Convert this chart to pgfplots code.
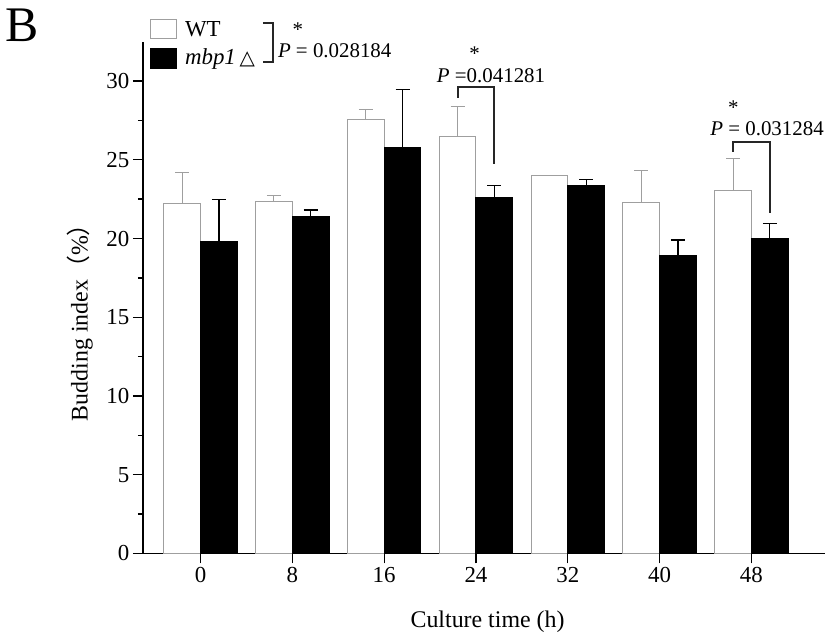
\documentclass[border=0pt]{standalone}
\usepackage{fontspec}
\setmainfont{Liberation Serif}
\newfontfamily\cjk{Noto Sans CJK SC}
\newfontfamily\dejavu{DejaVu Sans}
\usepackage{pgfplots}
\usepackage{pgfplotstable}
\pgfplotsset{compat=1.18}

% x = group index (0,8,...,48 h), y = budding index, e = upper error
\pgfplotstableread{
x y e
0 22.20 1.99
1 22.32 0.40
2 27.53 0.68
3 26.47 1.93
4 24.02 0.00
5 22.26 2.05
6 23.05 2.05
}\wt
\pgfplotstableread{
x y e
0 19.80 2.69
1 21.37 0.44
2 25.75 3.73
3 22.60 0.78
4 23.34 0.42
5 18.95 0.95
6 20.02 0.93
}\mbp

\newcommand\lbl{\fontsize{23}{25}\selectfont}
\newcommand\pf{\fontsize{21}{23}\selectfont}

\begin{document}
\begin{tikzpicture}
\begin{axis}[
    at={(0,0)}, anchor=south west,
    scale only axis,
    width=683bp, height=512.3bp,
    xmin=-0.628, xmax=6.804,
    ymin=0, ymax=32.5,
    axis x line*=bottom, axis y line*=left,
    axis line style={line width=1.5bp},
    tick align=outside,
    major tick length=10bp, minor tick length=5bp,
    tick style={black, line width=1.3bp},
    xtick={0,...,6},
    xticklabels={0,8,16,24,32,40,48},
    ytick={0,5,...,30},
    minor y tick num=1,
    ticklabel style={font=\lbl},
    /pgf/number format/assume math mode=true,
    clip=false,
    ybar, bar width=0.4,
  ]
  \addplot[ybar, bar shift=-0.2, fill=white, draw=gray!75, line width=1bp,
    error bars/.cd, y dir=plus, y explicit,
    error bar style={gray!75, line width=1bp},
    error mark options={rotate=90, gray!75, mark size=7bp, line width=1bp}]
    table[x=x, y=y, y error=e] {\wt};
  \addplot[ybar, bar shift=0.2, fill=black, draw=black, line width=1bp,
    error bars/.cd, y dir=plus, y explicit,
    error bar style={black, line width=1.3bp},
    error mark options={rotate=90, black, mark size=7bp, line width=1.3bp}]
    table[x=x, y=y, y error=e] {\mbp};

  % significance, 24 h
  \draw[line width=2bp, black!85] (axis cs:2.8,28.95) -- (axis cs:2.8,29.65)
    -- (axis cs:3.2,29.65) -- (axis cs:3.2,24.71);
  \node[inner sep=0, font=\pf] at (axis cs:3.164,30.32) {\textit{P} =0.041281};
  \node[inner sep=0, font=\pf] at (axis cs:2.985,31.75) {*};
  % significance, 48 h
  \draw[line width=2bp, black!85] (axis cs:5.8,25.5) -- (axis cs:5.8,26.13)
    -- (axis cs:6.2,26.13) -- (axis cs:6.2,21.65);
  \node[inner sep=0, font=\pf] at (axis cs:6.17,26.98) {\textit{P} = 0.031284};
  \node[inner sep=0, font=\pf] at (axis cs:5.803,28.3) {*};
\end{axis}

% legend
\draw[gray!75, line width=1bp, fill=white] (7.7bp,515bp) rectangle (33.7bp,534.7bp);
\draw[black, line width=1bp, fill=black] (7.7bp,485bp) rectangle (33.7bp,505bp);
\node[anchor=west, inner sep=0, font=\lbl] at (42bp,525bp) {WT};
\node[anchor=west, inner sep=0, font=\lbl] at (42bp,495bp) {\textit{mbp1}\,{\dejavu\fontsize{20}{22}\selectfont △}};
\draw[line width=2bp, black!85] (120bp,531.3bp) -- (130bp,531.3bp) -- (130bp,492.3bp) -- (120bp,492.3bp);
\node[inner sep=0, font=\pf] at (155bp,524.5bp) {*};
\node[inner sep=0, font=\pf] at (192bp,503bp) {\textit{P} = 0.028184};

% panel letter and axis titles
\node[inner sep=0, font=\fontsize{50}{52}\selectfont] at (-121bp,529bp) {B};
\node[rotate=90, inner sep=0, font=\fontsize{24}{26}\selectfont] at (-63bp,237bp)
  {Budding index{\cjk （}\%{\cjk ）}};
\node[inner sep=0, font=\fontsize{24}{26}\selectfont] at (345bp,-68bp) {Culture time (h)};

\path (-143bp,-83bp) rectangle (683bp,554bp);
\end{tikzpicture}
\end{document}
